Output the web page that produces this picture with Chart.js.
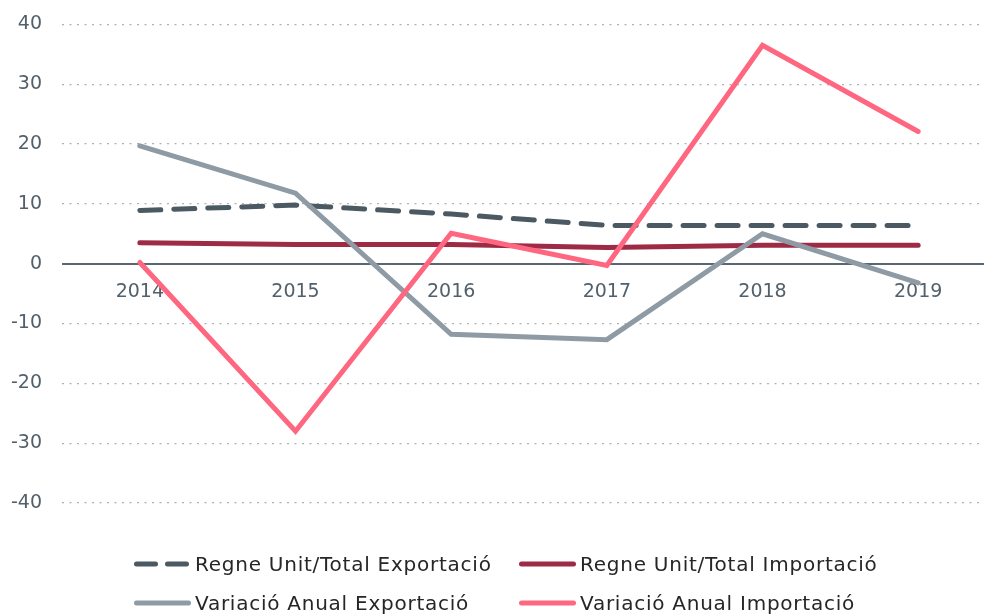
<!DOCTYPE html>
<html>
<head>
<meta charset="utf-8">
<script src="https://cdn.jsdelivr.net/npm/chart.js@4"></script>
<style>
  body { margin: 0; overflow: hidden; background: #fff; font-family: "DejaVu Sans", sans-serif; }
  #wrap { position: relative; width: 996px; height: 615px; overflow: hidden; }
  #grafico { position: absolute; left: 0; top: -7px; }
  #legend { position: absolute; left: 0; top: 0; width: 984px; height: 615px; pointer-events: none; }
  .item { position: absolute; display: flex; align-items: center; height: 30px; font-size: 20px; letter-spacing: 0.75px; color: #262626; white-space: nowrap; }
  .item svg { margin-right: 3px; }
</style>
</head>
<body>
<div id="wrap">
  <canvas id="grafico"></canvas>
  <div id="legend"></div>
</div>
<script>
// Datos
const anys = ['2014', '2015', '2016', '2017', '2018', '2019'];
const ruTotalExportacio = [8.9, 9.8, 8.3, 6.4, 6.4, 6.4];
const ruTotalImportacio = [3.5, 3.2, 3.2, 2.7, 3.1, 3.1];
const variacioExportacio = [19.7, 11.8, -11.8, -12.7, 5.0, -3.2];
const variacioImportacio = [0.2, -28.0, 5.1, -0.3, 36.5, 22.1];

const series = [
    { label: 'Regne Unit/Total Exportació', data: ruTotalExportacio, color: '#4b5963', dash: [21, 13], order: 4 },
    { label: 'Regne Unit/Total Importació', data: ruTotalImportacio, color: '#9e2b45', dash: [], order: 3 },
    { label: 'Variació Anual Exportació', data: variacioExportacio, color: '#8f9ba4', dash: [], order: 2 },
    { label: 'Variació Anual Importació', data: variacioImportacio, color: '#ff6680', dash: [], order: 1 }
];

const tickColor = '#52606b';
const tickFont = { family: 'DejaVu Sans', size: 19 };

function crearGrafico() {
    const canvas = document.getElementById('grafico');
    canvas.width = 996;
    canvas.height = 622;

    new Chart(canvas.getContext('2d'), {
        type: 'line',
        data: {
            labels: anys,
            datasets: series.map(s => ({
                label: s.label,
                data: s.data,
                borderColor: s.color,
                backgroundColor: s.color,
                borderWidth: 5,
                borderDash: s.dash,
                borderCapStyle: 'round',
                borderJoinStyle: 'miter',
                pointRadius: 0,
                tension: 0,
                order: s.order
            }))
        },
        options: {
            responsive: false,
            animation: false,
            layout: { padding: { top: 17, bottom: 112, right: 0, left: 0 } },
            plugins: {
                legend: { display: false },
                tooltip: { enabled: false }
            },
            scales: {
                x: {
                    type: 'category',
                    offset: true,
                    position: { y: 0 },
                    grid: { display: false, drawTicks: false },
                    border: { display: false },
                    ticks: { color: tickColor, font: tickFont, padding: 17, maxRotation: 0 }
                },
                y: {
                    min: -40,
                    max: 40,
                    afterFit: scale => { scale.width = 62; },
                    grid: {
                        drawTicks: false,
                        color: ctx => ctx.tick && ctx.tick.value === 0 ? '#5b6770' : '#b0b0b0',
                        lineWidth: ctx => ctx.tick && ctx.tick.value === 0 ? 2 : 1.3
                    },
                    border: {
                        display: false,
                        dash: ctx => ctx.tick && ctx.tick.value === 0 ? [] : [2, 5.5]
                    },
                    ticks: { stepSize: 10, color: tickColor, font: tickFont, padding: 20 }
                }
            }
        }
    });

    // Leyenda en HTML (dos columnas)
    const legend = document.getElementById('legend');
    const pos = [
        { x: 131, y: 549 },
        { x: 516, y: 549 },
        { x: 131, y: 588 },
        { x: 516, y: 588 }
    ];
    series.forEach((s, i) => {
        const item = document.createElement('div');
        item.className = 'item';
        item.style.left = pos[i].x + 'px';
        item.style.top = pos[i].y + 'px';
        const dash = s.dash.length ? 'stroke-dasharray="19 12"' : '';
        item.innerHTML = '<svg width="61" height="10"><line x1="5.5" y1="5" x2="57.5" y2="5" stroke="' + s.color +
            '" stroke-width="5" stroke-linecap="round" ' + dash + '/></svg><span>' + s.label + '</span>';
        legend.appendChild(item);
    });
}

document.addEventListener('DOMContentLoaded', () => {
    crearGrafico();
});
</script>
</body>
</html>
